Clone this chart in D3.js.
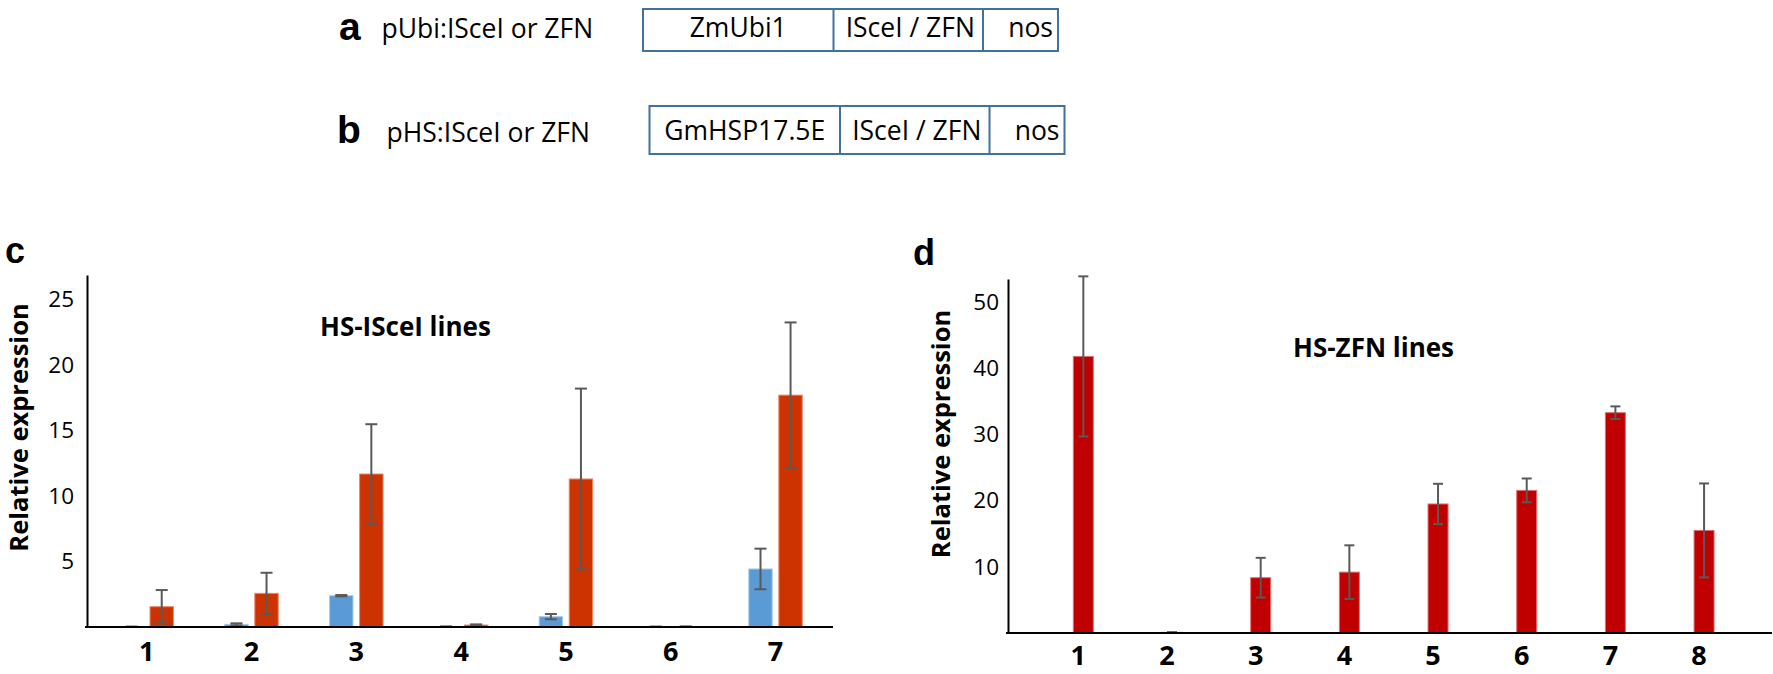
<!DOCTYPE html>
<html><head><meta charset="utf-8">
<script src="https://cdn.jsdelivr.net/npm/d3@7"></script>
<style>
html,body{margin:0;padding:0;background:#fff;}
svg{display:block;}
text{font-family:"Open Sans","Noto Sans",sans-serif;fill:#000;}
</style></head>
<body>
<svg id="fig" width="1773" height="674"></svg>
<script>
// ---------------- data ----------------
const constructA = ["ZmUbi1", "ISceI / ZFN", "nos"];
const constructB = ["GmHSP17.5E", "ISceI / ZFN", "nos"];
const constructLabels = ["pUbi:ISceI or ZFN", "pHS:ISceI or ZFN"];

const isceCategories = ["1", "2", "3", "4", "5", "6", "7"];
const isceBlue    = [0.02, 0.20, 2.39, 0.03, 0.79, 0.02, 4.43];
const isceBlueErr = [0.00, 0.08, 0.05, 0.00, 0.20, 0.00, 1.55];
const isceRed     = [1.55, 2.57, 11.68, 0.15, 11.30, 0.03, 17.70];
const isceRedErr  = [1.27, 1.57, 3.80, 0.05, 6.90, 0.00, 5.55];
const isceTicks   = [5, 10, 15, 20, 25];

const zfnCategories = ["1", "2", "3", "4", "5", "6", "7", "8"];
const zfnValues = [41.8, 0.1, 8.36, 9.2, 19.5, 21.55, 33.3, 15.5];
const zfnErr    = [12.1, 0.0, 3.0, 4.05, 3.05, 1.8, 0.95, 7.1];
const zfnTicks  = [10, 20, 30, 40, 50];

// ---------------- setup ----------------
const svg = d3.select("#fig");
const ERR = "#595959";

// ---------------- panels a / b ----------------
function panelLetter(txt, x, y, size) {
  svg.append("text").attr("x", x).attr("y", y).text(txt)
    .style("font-family", "'Liberation Sans', Arial, sans-serif")
    .style("font-weight", "bold").style("font-size", size + "px");
}
panelLetter("a", 339, 40, 39);
panelLetter("b", 337, 143, 39);

svg.append("text").attr("x", 381.5).attr("y", 37.5).text(constructLabels[0])
  .style("font-size", "26.5px");
svg.append("text").attr("x", 386.5).attr("y", 141.5).text(constructLabels[1])
  .style("font-size", "26.5px");

function construct(parts, edges, top, bottom, baseline) {
  const g = svg.append("g");
  g.append("rect").attr("x", edges[0]).attr("y", top)
    .attr("width", edges[3] - edges[0]).attr("height", bottom - top)
    .attr("fill", "none").attr("stroke", "#41719C").attr("stroke-width", 2);
  [edges[1], edges[2]].forEach(x => g.append("line")
    .attr("x1", x).attr("x2", x).attr("y1", top).attr("y2", bottom)
    .attr("stroke", "#41719C").attr("stroke-width", 2));
  parts.forEach((p, i) => {
    const last = i === parts.length - 1;
    g.append("text")
      .attr("x", last ? edges[i + 1] - 5 : (edges[i] + edges[i + 1]) / 2 + (i === 0 ? 0 : 2))
      .attr("y", baseline)
      .attr("text-anchor", last ? "end" : "middle")
      .style("font-size", "26.5px").text(p);
  });
}
construct(constructA, [643, 833.5, 983, 1058], 9, 51, 36.5);
construct(constructB, [649.5, 840, 989.5, 1064.5], 106, 154, 140);

// ---------------- panel c ----------------
(function () {
  const xL = 87, xR = 833, yTop = 275, yBase = 627;
  const y = d3.scaleLinear().domain([0, 26.87]).range([yBase, yTop]);
  const x0 = d3.scaleBand().domain(isceCategories).range([xL, xR])
    .paddingInner(0).paddingOuter(0.059).align(0.59);
  const bw = x0.bandwidth();
  const x1 = d3.scaleBand().domain(["blue", "red"])
    .range([bw / 2 - 26.75, bw / 2 + 26.75]).paddingInner(0.22);

  const rows = isceCategories.map((c, i) => ({
    cat: c,
    bars: [
      { key: "blue", v: isceBlue[i], e: isceBlueErr[i] },
      { key: "red", v: isceRed[i], e: isceRedErr[i] }
    ]
  }));
  const fill = { blue: "#5B9BD5", red: "#CC3300" };
  const edge = { blue: "#A9CBEB", red: "#E98A6A" };

  const g = svg.append("g");
  const grp = g.selectAll("g.grp").data(rows).join("g")
    .attr("transform", d => `translate(${x0(d.cat)},0)`);
  grp.selectAll("rect").data(d => d.bars).join("rect")
    .attr("x", d => x1(d.key)).attr("width", x1.bandwidth())
    .attr("y", d => y(d.v)).attr("height", d => yBase - y(d.v))
    .attr("fill", d => fill[d.key]).attr("stroke", d => edge[d.key]).attr("stroke-width", 1);
  const eb = grp.selectAll("g.err").data(d => d.bars).join("g")
    .attr("transform", d => `translate(${x1(d.key) + x1.bandwidth() / 2},0)`)
    .attr("stroke", ERR).attr("stroke-width", 2);
  eb.append("line").attr("y1", d => y(d.v + d.e)).attr("y2", d => y(Math.max(0, d.v - d.e)));
  eb.append("line").attr("x1", -6).attr("x2", 6).attr("y1", d => y(d.v + d.e)).attr("y2", d => y(d.v + d.e));
  eb.append("line").attr("x1", -6).attr("x2", 6).attr("y1", d => y(Math.max(0, d.v - d.e))).attr("y2", d => y(Math.max(0, d.v - d.e)));

  const ya = g.append("g").attr("transform", `translate(${xL},0)`)
    .call(d3.axisLeft(y).tickValues(isceTicks).tickSize(0).tickSizeOuter(0).tickPadding(13));
  ya.select(".domain").attr("stroke", "#000").attr("stroke-width", 2);
  ya.selectAll("text").style("font-family", "'Open Sans',sans-serif").style("font-size", "22.5px").attr("fill", "#000");

  const xa = g.append("g").attr("transform", `translate(0,${yBase})`)
    .call(d3.axisBottom(x0).tickSize(0).tickSizeOuter(0).tickPadding(15));
  xa.select(".domain").attr("stroke", "#000").attr("stroke-width", 2).attr("d", `M${xL - 2},0H${xR}`);
  xa.selectAll("text").style("font-family", "'Open Sans',sans-serif").style("font-size", "27px")
    .style("font-weight", "bold").attr("fill", "#000");

  g.append("text").attr("x", 320).attr("y", 336).text("HS-ISceI lines")
    .style("font-weight", "bold").style("font-size", "26px");
  g.append("text").attr("transform", `translate(28,427.5) rotate(-90)`)
    .attr("text-anchor", "middle").text("Relative expression")
    .style("font-weight", "bold").style("font-size", "25.5px");
  panelLetter("c", 5, 263, 36);
})();

// ---------------- panel d ----------------
(function () {
  const xL = 1008, xR = 1772, yTop = 279, yBase = 633;
  const y = d3.scaleLinear().domain([0, 53.5]).range([yBase, yTop]);
  const x = d3.scaleBand().domain(zfnCategories).range([xL, xR])
    .paddingInner(0.7744).paddingOuter(0.695).align(0.53);
  const rows = zfnCategories.map((c, i) => ({ cat: c, v: zfnValues[i], e: zfnErr[i] }));

  const g = svg.append("g");
  g.selectAll("rect").data(rows).join("rect")
    .attr("x", d => x(d.cat)).attr("width", x.bandwidth())
    .attr("y", d => y(d.v)).attr("height", d => yBase - y(d.v))
    .attr("fill", "#C00000").attr("stroke", "#E07070").attr("stroke-width", 1);
  const eb = g.selectAll("g.err").data(rows).join("g")
    .attr("transform", d => `translate(${x(d.cat) + x.bandwidth() / 2},0)`)
    .attr("stroke", ERR).attr("stroke-width", 2);
  eb.append("line").attr("y1", d => y(d.v + d.e)).attr("y2", d => y(Math.max(0, d.v - d.e)));
  eb.append("line").attr("x1", -5).attr("x2", 5).attr("y1", d => y(d.v + d.e)).attr("y2", d => y(d.v + d.e));
  eb.append("line").attr("x1", -5).attr("x2", 5).attr("y1", d => y(Math.max(0, d.v - d.e))).attr("y2", d => y(Math.max(0, d.v - d.e)));

  const ya = g.append("g").attr("transform", `translate(${xL},0)`)
    .call(d3.axisLeft(y).tickValues(zfnTicks).tickSize(0).tickSizeOuter(0).tickPadding(9));
  ya.select(".domain").attr("stroke", "#000").attr("stroke-width", 2);
  ya.selectAll("text").style("font-family", "'Open Sans',sans-serif").style("font-size", "22.5px").attr("fill", "#000");

  const xa = g.append("g").attr("transform", `translate(0,${yBase})`)
    .call(d3.axisBottom(x).tickSize(0).tickSizeOuter(0).tickPadding(13));
  xa.select(".domain").attr("stroke", "#000").attr("stroke-width", 2).attr("d", `M${xL - 2},0H${xR}`);
  xa.selectAll("text").attr("dx", -5).style("font-family", "'Open Sans',sans-serif").style("font-size", "27px")
    .style("font-weight", "bold").attr("fill", "#000");

  g.append("text").attr("x", 1293).attr("y", 356.5).text("HS-ZFN lines")
    .style("font-weight", "bold").style("font-size", "26px");
  g.append("text").attr("transform", `translate(950,434) rotate(-90)`)
    .attr("text-anchor", "middle").text("Relative expression")
    .style("font-weight", "bold").style("font-size", "25.5px");
  panelLetter("d", 913, 265, 36);
})();
</script>
</body></html>
